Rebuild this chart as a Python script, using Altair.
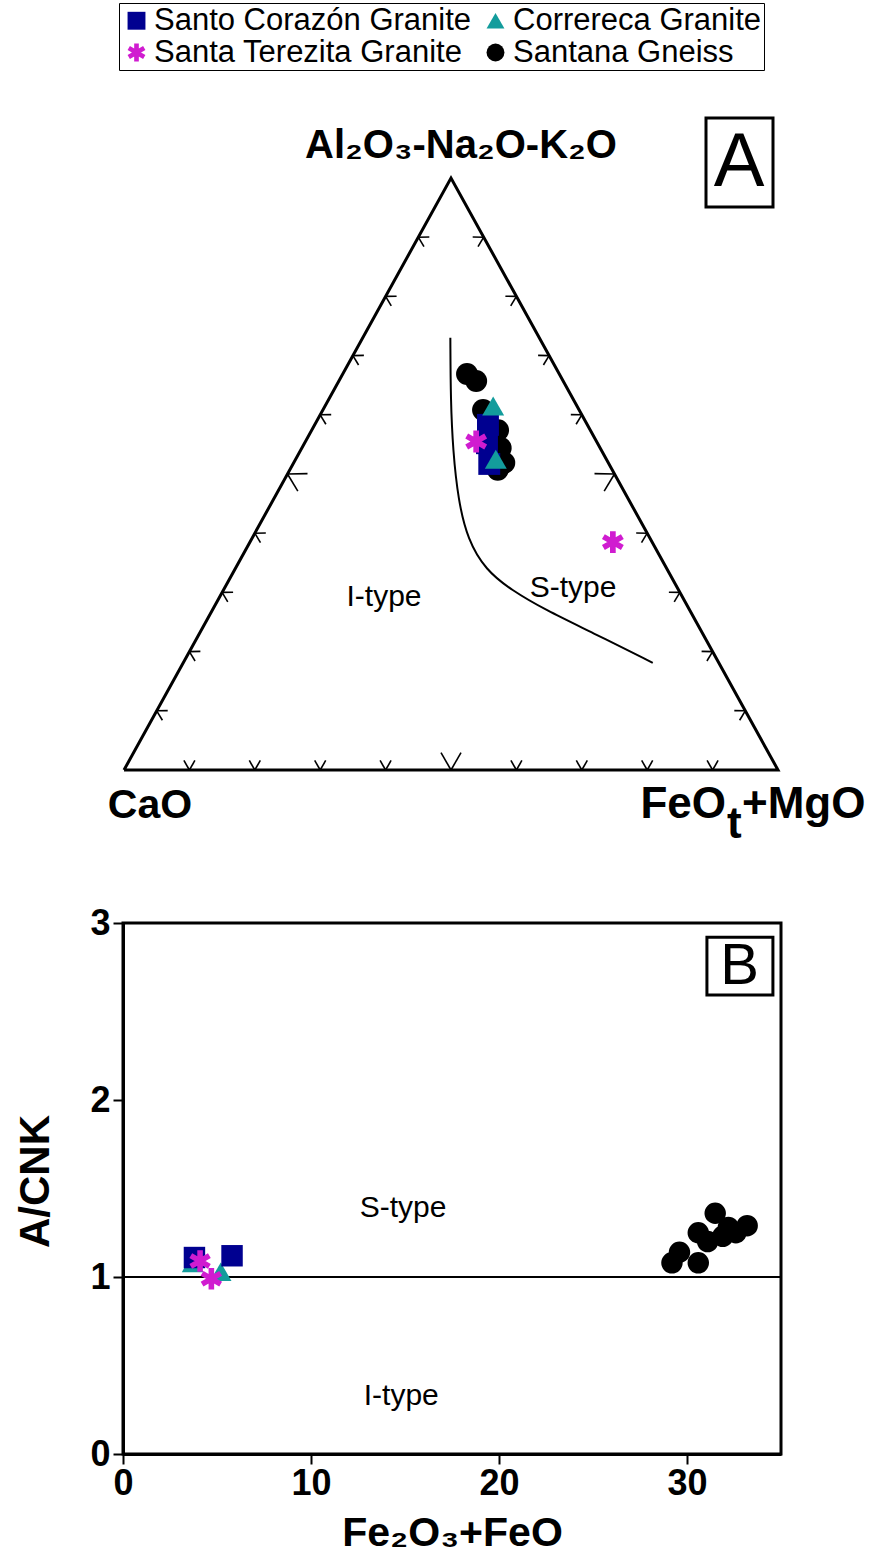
import math
import altair as alt
import pandas as pd

FONT = "Liberation Sans"

# ---------------- series / styling ----------------
SERIES = ["Santo Corazón Granite", "Correreca Granite", "Santa Terezita Granite", "Santana Gneiss"]
COLORS = ["#000090", "#139C9C", "#D01CD0", "#000000"]
ASTERISK = ("M-0.26,-1L0.26,-1L0.26,1L-0.26,1Z"
            "M-0.996,-0.275L-0.736,-0.725L0.996,0.275L0.736,0.725Z"
            "M0.736,-0.725L0.996,-0.275L-0.736,0.725L-0.996,0.275Z")
SHAPES = ["square", "triangle-up", ASTERISK, "circle"]

# ---------------- Panel A: ternary data (%) ----------------
A_SERIES = (["Santana Gneiss"] * 8 + ["Santo Corazón Granite"] * 3
            + ["Correreca Granite"] * 2 + ["Santa Terezita Granite"] * 2)
A_AL = [66.9, 65.7, 60.8, 57.8, 57.4, 54.4, 51.9, 50.7, 58.3, 55.2, 51.7, 61.5, 52.5, 55.5, 38.5]
A_CA = [14.1, 13.3, 14.7, 15.3, 14.1, 15.2, 15.9, 17.5, 15.2, 16.9, 18.3, 12.8, 16.9, 18.4, 6.0]
A_FM = [19.0, 21.0, 24.5, 26.9, 28.5, 30.4, 32.2, 31.8, 26.5, 27.9, 30.0, 25.7, 30.6, 26.1, 55.5]

# I-type / S-type boundary curve
CURVE_AL = [73.0, 62.5, 54.0, 45.6, 38.9, 33.8, 30.4, 27.0, 23.3, 18.1]
CURVE_CA = [13.6, 18.8, 22.7, 26.1, 28.0, 27.8, 25.6, 22.0, 16.9, 10.1]
CURVE_FM = [13.4, 18.7, 23.3, 28.3, 33.1, 38.4, 44.0, 51.0, 59.8, 71.8]

TERN_TICKS = [10, 20, 30, 40, 50, 60, 70, 80, 90]

# ---------------- Panel B data ----------------
B_SERIES = (["Correreca Granite"] * 2 + ["Santo Corazón Granite"] * 2
            + ["Santa Terezita Granite"] * 2 + ["Santana Gneiss"] * 10)
B_FE = [3.7, 5.2, 3.8, 5.8, 4.1, 4.7, 29.2, 29.6, 30.6, 30.6, 31.1, 31.5, 31.9, 32.2, 32.6, 33.2]
B_ACNK = [1.08, 1.03, 1.11, 1.12, 1.09, 0.99, 1.08, 1.14, 1.08, 1.25, 1.20, 1.36, 1.23, 1.28, 1.25, 1.29]
B_XTICKS = [0, 10, 20, 30]
B_YTICKS = [0, 1, 2, 3]

# ---------------- layout geometry (pixels) ----------------
PX_X, PX_Y = 654.0, 592.0      # triangle base width / height in px
A_W, A_H = 658, 903            # panel A view
B_W, B_H = 658, 531            # panel B plot
TRI_LEFT, TRI_BASE = 1.0, 770.0


def ax(px):  # page-x (px) -> panel A data x
    return (px - 122 - TRI_LEFT) / PX_X


def ay(py):  # page-y (px) -> panel A data y
    return (TRI_BASE - py) / PX_Y


XA_DOM = [ax(122), ax(122 + A_W)]
YA_DOM = [ay(A_H), ay(0)]


def tern(al, ca, fm):
    s = al + ca + fm
    a, f = al / s, fm / s
    return f + a / 2.0, a


XA = alt.X("x:Q", scale=alt.Scale(domain=XA_DOM, nice=False, zero=False), axis=None)
YA = alt.Y("y:Q", scale=alt.Scale(domain=YA_DOM, nice=False, zero=False), axis=None)

# triangle outline
verts = [tern(0, 100, 0), tern(0, 0, 100), tern(100, 0, 0), tern(0, 100, 0)]
outline_df = pd.DataFrame({"x": [v[0] for v in verts], "y": [v[1] for v in verts], "i": range(4)})
outline = alt.Chart(outline_df).mark_line(color="black", strokeWidth=3, strokeJoin="miter").encode(
    x=XA, y=YA, order="i:Q")

# ternary tick marks (small V's opening inward)
edges = [
    (tern(0, 100, 0), tern(0, 0, 100), (0.0, -1.0)),
    (tern(0, 100, 0), tern(100, 0, 0), (592 / 676.3, 327 / 676.3)),
    (tern(0, 0, 100), tern(100, 0, 0), (-592 / 676.3, 327 / 676.3)),
]
rows = []
for p0, p1, (nx, ny) in edges:
    for t in TERN_TICKS:
        f = t / 100.0
        px0 = p0[0] + f * (p1[0] - p0[0])
        py0 = p0[1] + f * (p1[1] - p0[1])
        L = 20.0 if t == 50 else 11.0
        for ang in (math.radians(30), math.radians(-30)):
            dx = (nx * math.cos(ang) - ny * math.sin(ang)) * L
            dy = (nx * math.sin(ang) + ny * math.cos(ang)) * L
            rows.append({"x": px0, "y": py0, "x2": px0 + dx / PX_X, "y2": py0 - dy / PX_Y})
ticks_df = pd.DataFrame(rows)
ticks = alt.Chart(ticks_df).mark_rule(color="black", strokeWidth=1.6).encode(
    x=XA, y=YA, x2="x2:Q", y2="y2:Q")

# boundary curve
cpts = [tern(a, c, f) for a, c, f in zip(CURVE_AL, CURVE_CA, CURVE_FM)]
curve_df = pd.DataFrame({"x": [p[0] for p in cpts], "y": [p[1] for p in cpts], "i": range(len(cpts))})
curve = alt.Chart(curve_df).mark_line(color="black", strokeWidth=2, interpolate="basis").encode(
    x=XA, y=YA, order="i:Q")

# points
apts = [tern(a, c, f) for a, c, f in zip(A_AL, A_CA, A_FM)]
pts_a_df = pd.DataFrame({"x": [p[0] for p in apts], "y": [p[1] for p in apts], "series": A_SERIES})
legend = alt.Legend(orient="none", legendX=-4, legendY=3, columns=2, direction="horizontal",
                    title=None, labelFont=FONT, labelFontSize=31, labelColor="black",
                    labelLimit=600, symbolSize=320, symbolStrokeWidth=0, symbolOffset=0,
                    labelOffset=2, strokeColor="black", padding=2, rowPadding=0,
                    columnPadding=8)
pts_a = alt.Chart(pts_a_df).mark_point(filled=True, size=480, opacity=1).encode(
    x=XA, y=YA,
    color=alt.Color("series:N", scale=alt.Scale(domain=SERIES, range=COLORS), legend=legend),
    shape=alt.Shape("series:N", scale=alt.Scale(domain=SERIES, range=SHAPES), legend=legend),
)


def text_layer(labels, xs, ys, **kw):
    df = pd.DataFrame({"x": xs, "y": ys, "t": labels})
    return alt.Chart(df).mark_text(font=FONT, color="black", **kw).encode(x=XA, y=YA, text="t:N")


t_apex = text_layer(["Al₂O₃-Na₂O-K₂O"], [ax(460)], [ay(158)],
                    fontSize=40, fontWeight="bold", align="center", baseline="alphabetic")
t_cao = text_layer(["CaO"], [ax(149)], [ay(818)],
                   fontSize=41, fontWeight="bold", align="center", baseline="alphabetic")
t_feo = text_layer(["FeO"], [ax(725)], [ay(818)], fontSize=44, fontWeight="bold",
                   align="right", baseline="alphabetic")
t_t = text_layer(["t"], [ax(726)], [ay(838)], fontSize=44, fontWeight="bold",
                 align="left", baseline="alphabetic")
t_mgo = text_layer(["+MgO"], [ax(741)], [ay(818)], fontSize=44, fontWeight="bold",
                   align="left", baseline="alphabetic")
t_types_a = text_layer(["I-type", "S-type"], [ax(383), ax(572)], [ay(597), ay(588)],
                       fontSize=30, align="center", baseline="middle")
t_A = text_layer(["A"], [ax(738)], [ay(163)], fontSize=76, align="center", baseline="middle")
boxA_df = pd.DataFrame({"x": [ax(705)], "x2": [ax(772)], "y": [ay(118)], "y2": [ay(207)]})
boxA = alt.Chart(boxA_df).mark_rect(fillOpacity=0, stroke="black", strokeWidth=3).encode(
    x=XA, x2="x2:Q", y=YA, y2="y2:Q")

panel_a = alt.layer(outline, ticks, curve, pts_a, t_apex, t_cao, t_feo, t_t, t_mgo, t_types_a,
                    boxA, t_A).properties(width=A_W, height=A_H, view=alt.ViewBackground(stroke=None))

# ---------------- Panel B ----------------
XB = alt.X("x:Q", scale=alt.Scale(domain=[0, 35], nice=False, zero=False),
           axis=alt.Axis(values=B_XTICKS, title="Fe₂O₃+FeO", grid=False, tickSize=10, tickWidth=2,
                         tickColor="black", domainColor="black", domainWidth=3, labelFlush=False,
                         labelFont=FONT, labelFontSize=36, labelFontWeight="bold", labelColor="black",
                         labelPadding=2, titleFont=FONT, titleFontSize=41, titleFontWeight="bold",
                         titleColor="black", titlePadding=12))
YB = alt.Y("y:Q", scale=alt.Scale(domain=[0, 3], nice=False, zero=False),
           axis=alt.Axis(values=B_YTICKS, title="A/CNK", grid=False, tickSize=10, tickWidth=2,
                         tickColor="black", domainColor="black", domainWidth=3, labelFlush=False,
                         labelFont=FONT, labelFontSize=36, labelFontWeight="bold", labelColor="black",
                         labelPadding=3, titleFont=FONT, titleFontSize=42, titleFontWeight="bold",
                         titleColor="black", titleX=-88, titleY=258, titleAngle=270,
                         titleAlign="center", titleBaseline="middle"))

pts_b_df = pd.DataFrame({"x": B_FE, "y": B_ACNK, "series": B_SERIES})
pts_b = alt.Chart(pts_b_df).mark_point(filled=True, size=460, opacity=1).encode(
    x=XB, y=YB,
    color=alt.Color("series:N", scale=alt.Scale(domain=SERIES, range=COLORS), legend=None),
    shape=alt.Shape("series:N", scale=alt.Scale(domain=SERIES, range=SHAPES), legend=None),
)
ref_line = alt.Chart(pd.DataFrame({"y": [1.0]})).mark_rule(color="black", strokeWidth=2).encode(y=YB)


def text_b(labels, xs, ys, **kw):
    df = pd.DataFrame({"x": xs, "y": ys, "t": labels})
    return alt.Chart(df).mark_text(font=FONT, color="black", **kw).encode(x=XB, y=YB, text="t:N")


t_types_b = text_b(["S-type", "I-type"], [14.9, 14.8], [1.39, 0.33], fontSize=30,
                   align="center", baseline="middle")
t_B = text_b(["B"], [32.8], [2.75], fontSize=58, align="center", baseline="middle")
boxB_df = pd.DataFrame({"x": [31.06], "x2": [34.57], "y": [2.92], "y2": [2.593]})
boxB = alt.Chart(boxB_df).mark_rect(fillOpacity=0, stroke="black", strokeWidth=3).encode(
    x=XB, x2="x2:Q", y=YB, y2="y2:Q")

panel_b = alt.layer(ref_line, pts_b, t_types_b, boxB, t_B).properties(
    width=B_W, height=B_H, view=alt.ViewBackground(stroke="black", strokeWidth=3))

chart = alt.vconcat(panel_a, panel_b, spacing=20, bounds="flush").resolve_scale(
    color="independent", shape="independent").resolve_legend(
    color="independent", shape="independent").properties(
    padding={"left": 12, "top": 0, "right": 0, "bottom": 0}).configure_view(stroke=None)

chart.save("out.html", embed_options={"renderer": "svg", "actions": False})
